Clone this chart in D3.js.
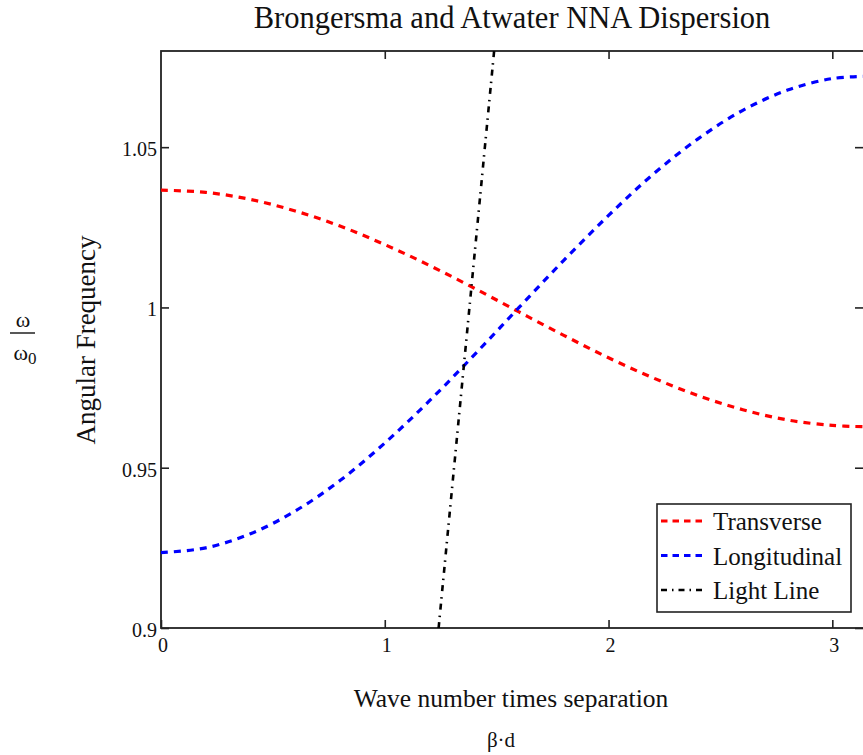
<!DOCTYPE html>
<html>
<head>
<meta charset="utf-8">
<script src="https://cdn.jsdelivr.net/npm/d3@7/dist/d3.min.js"></script>
<style>
  html, body { margin: 0; padding: 0; background: #fff; }
  svg { display: block; }
  text { font-family: "Liberation Serif", "Times New Roman", serif; fill: #111; }
</style>
</head>
<body>
<svg id="chart" width="863" height="755"></svg>
<script>
// ---- data ----
const betaD = [0, 0.2, 0.4, 0.6, 0.8, 1.0, 1.2, 1.4, 1.6, 1.8, 2.0, 2.2, 2.4, 2.6, 2.8, 3.0, 3.1416];
const transverse = [1.0366, 1.0359, 1.0337, 1.0301, 1.0254, 1.0196, 1.0131, 1.0060, 0.9986, 0.9913, 0.9843, 0.9780, 0.9725, 0.9681, 0.9649, 0.9632, 0.9628];
const longitudinal = [0.9235, 0.9250, 0.9294, 0.9365, 0.9460, 0.9577, 0.9709, 0.9852, 1.0000, 1.0147, 1.0287, 1.0416, 1.0526, 1.0615, 1.0678, 1.0714, 1.0721];
const lightX = [1.2406, 1.4887];
const lightY = [0.9, 1.08];
const xTicks = [0, 1, 2, 3];
const yTicks = [0.9, 0.95, 1, 1.05];
const yTickLabels = ["0.9", "0.95", "1", "1.05"];
const seriesNames = ["Transverse", "Longitudinal", "Light Line"];
const seriesColors = ["#ff0000", "#0000ff", "#000000"];
const titleText = "Brongersma and Atwater NNA Dispersion";
const xLabel = "Wave number times separation";
const xUnitLabel = "β·d";
const yLabel = "Angular Frequency";

// ---- layout ----
const L = 161, R = 864, T = 51, B = 628;
const svg = d3.select("#chart");
const x = d3.scaleLinear().domain([0, Math.PI]).range([L, R]);
const y = d3.scaleLinear().domain([0.9, 1.08]).range([B, T]);

svg.append("defs").append("clipPath").attr("id", "clip")
  .append("rect").attr("x", L).attr("y", T).attr("width", R - L).attr("height", B - T);

// title
svg.append("text").attr("x", 512).attr("y", 28)
  .attr("text-anchor", "middle").style("font-size", "30.5px").text(titleText);

// axes (ticks point inward)
const tickLen = 8;
const gB = svg.append("g").attr("transform", `translate(0,${B})`)
  .call(d3.axisTop(x).tickValues(xTicks).tickSize(tickLen).tickFormat(""));
const gT = svg.append("g").attr("transform", `translate(0,${T})`)
  .call(d3.axisBottom(x).tickValues(xTicks.slice(1)).tickSize(tickLen).tickFormat(""));
const gL = svg.append("g").attr("transform", `translate(${L},0)`)
  .call(d3.axisRight(y).tickValues(yTicks).tickSize(tickLen).tickFormat(""));
const gR = svg.append("g").attr("transform", `translate(${R - 1},0)`)
  .call(d3.axisLeft(y).tickValues(yTicks).tickSize(tickLen).tickFormat(""));
[gB, gT, gL, gR].forEach(g => {
  g.select(".domain").remove();
  g.selectAll(".tick line").attr("stroke", "#222").attr("stroke-width", 1.6);
});

// frame
svg.append("rect").attr("x", L).attr("y", T).attr("width", R - L).attr("height", B - T)
  .attr("fill", "none").attr("stroke", "#222").attr("stroke-width", 1.8);

// tick labels
svg.append("g").selectAll("text").data(xTicks).join("text")
  .attr("x", d => x(d) + 2).attr("y", B + 24)
  .attr("text-anchor", "middle").style("font-size", "20px").text(d => d);
svg.append("g").selectAll("text").data(yTicks).join("text")
  .attr("x", L - 4).attr("y", d => y(d) + 9)
  .attr("text-anchor", "end").style("font-size", "20px").text((d, i) => yTickLabels[i]);

// axis labels
svg.append("text").attr("x", 511).attr("y", 707).attr("text-anchor", "middle")
  .style("font-size", "25.5px").text(xLabel);
svg.append("text").attr("x", 501).attr("y", 747).attr("text-anchor", "middle")
  .style("font-size", "21px").text(xUnitLabel);
svg.append("text").attr("transform", "translate(95,340) rotate(-90)")
  .attr("text-anchor", "middle").style("font-size", "27px").text(yLabel);

// omega / omega0 fraction
const frac = svg.append("g").attr("transform", "translate(23,0)");
frac.append("text").attr("x", 0).attr("y", 327).attr("text-anchor", "middle")
  .style("font-size", "22px").text("ω");
frac.append("line").attr("x1", -13).attr("x2", 12).attr("y1", 333).attr("y2", 333)
  .attr("stroke", "#111").attr("stroke-width", 1.4);
const w0 = frac.append("text").attr("x", 2).attr("y", 360).attr("text-anchor", "middle")
  .style("font-size", "22px");
w0.append("tspan").text("ω");
w0.append("tspan").attr("dy", 4).style("font-size", "17px").text("0");

// series
const line = d3.line().x(d => x(d[0])).y(d => y(d[1])).curve(d3.curveCatmullRom);
const plot = svg.append("g").attr("clip-path", "url(#clip)");
const dashes = ["7,6", "7,6", "6,5,1.5,6"];
const widths = [3.2, 3.2, 2.6];
plot.append("path").datum(betaD.map((b, i) => [b, transverse[i]]))
  .attr("d", line).attr("fill", "none").attr("stroke", seriesColors[0])
  .attr("stroke-width", widths[0]).attr("stroke-dasharray", dashes[0]);
plot.append("path").datum(betaD.map((b, i) => [b, longitudinal[i]]))
  .attr("d", line).attr("fill", "none").attr("stroke", seriesColors[1])
  .attr("stroke-width", widths[1]).attr("stroke-dasharray", dashes[1]);
plot.append("path").datum(lightX.map((b, i) => [b, lightY[i]]))
  .attr("d", d3.line().x(d => x(d[0])).y(d => y(d[1]))).attr("fill", "none")
  .attr("stroke", seriesColors[2]).attr("stroke-width", widths[2])
  .attr("stroke-dasharray", dashes[2]);

// legend
const lg = svg.append("g");
lg.append("rect").attr("x", 657).attr("y", 504).attr("width", 194).attr("height", 108)
  .attr("fill", "#fff").attr("stroke", "#222").attr("stroke-width", 1.6);
const legendDashes = ["6.5,5", "6.5,5", "6,5,1.5,5"];
seriesNames.forEach((name, i) => {
  const yy = 521 + i * 34.5;
  lg.append("line").attr("x1", 661).attr("x2", 702).attr("y1", yy).attr("y2", yy)
    .attr("stroke", seriesColors[i]).attr("stroke-width", widths[i])
    .attr("stroke-dasharray", legendDashes[i]);
  lg.append("text").attr("x", 713).attr("y", yy + 9).style("font-size", "25px").text(name);
});
</script>
</body>
</html>
